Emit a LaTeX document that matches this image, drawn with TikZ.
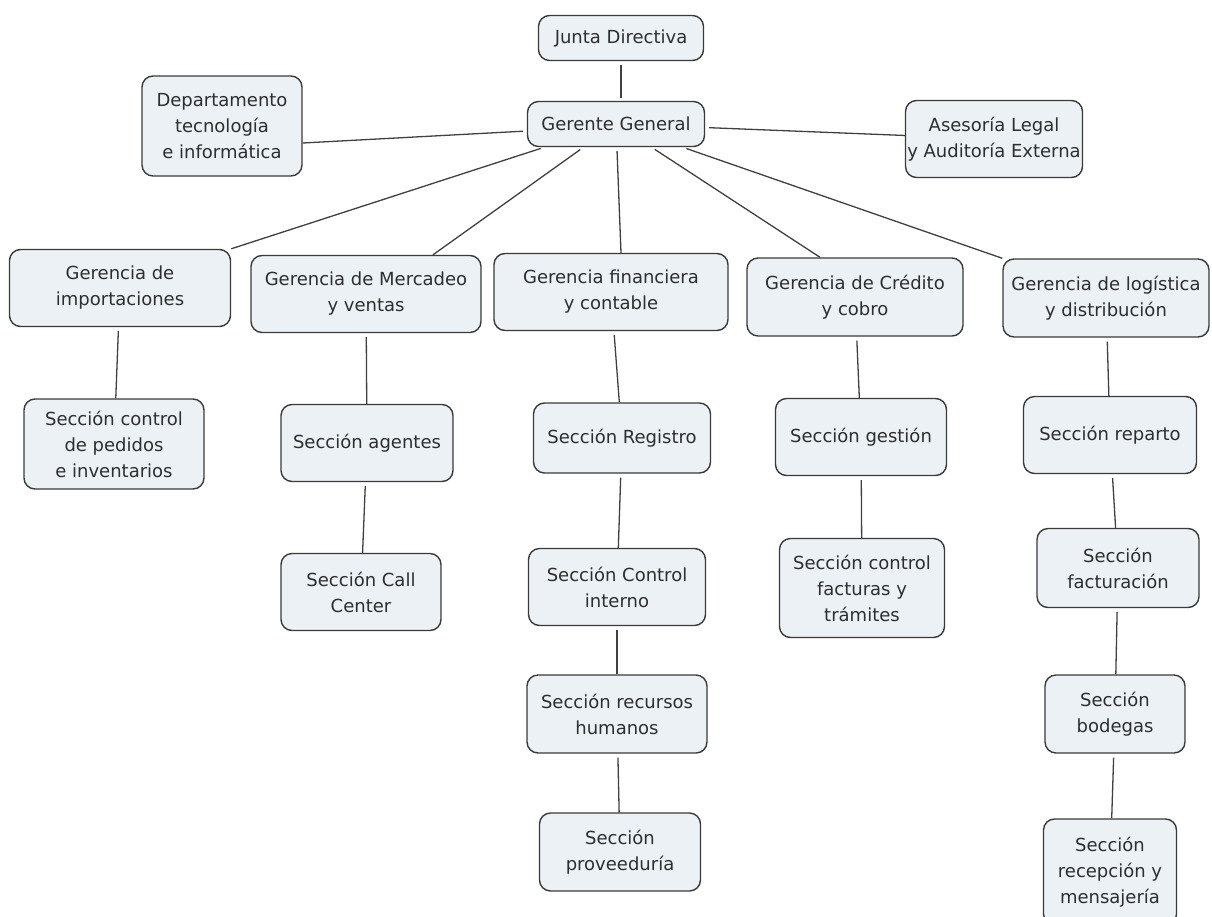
\documentclass[tikz,border=0pt]{standalone}
\usepackage{fontspec}
\setmainfont{DejaVu Sans}
\usepackage{xcolor}
\definecolor{orgFill}{HTML}{EBF1F4}
\definecolor{orgBorder}{HTML}{3A3A3A}
\definecolor{orgText}{HTML}{2E2E2E}
\definecolor{orgLine}{HTML}{404040}
\usepackage{tikz}
\usetikzlibrary{calc}
\tikzset{
    unit/.style={
        draw=orgBorder,
        fill=orgFill,
        rectangle,
        rounded corners=11pt,
        line width=1.4pt,
        align=center,
        inner sep=0pt,
        text=orgText,
        font=\fontsize{18}{26}\selectfont
    },
    link/.style={
        draw=orgLine,
        line width=1.3pt,
        shorten <=4pt
    }
}

\begin{document}
\begin{tikzpicture}[x=1pt, y=-1pt]
    \useasboundingbox (0,0) rectangle (1212,916);
    \clip (0,0) rectangle (1212,916);

    % Direction
    \node[unit, minimum width=165pt, minimum height=45pt] (junta) at (621,38) {Junta Directiva};
    \node[unit, minimum width=177pt, minimum height=45pt] (gg) at (616,124) {Gerente General};
    \node[unit, minimum width=160pt, minimum height=100pt] (dep) at (222,126) {Departamento\\tecnología\\e informática};
    \node[unit, minimum width=177pt, minimum height=77pt] (ases) at (994,139) {Asesoría Legal\\y Auditoría Externa};

    % Gerencias
    \node[unit, minimum width=221pt, minimum height=77pt] (imp) at (120,288) {Gerencia de\\importaciones};
    \node[unit, minimum width=230pt, minimum height=77pt] (merc) at (366,294) {Gerencia de Mercadeo\\y ventas};
    \node[unit, minimum width=234pt, minimum height=77pt] (fin) at (611,292) {Gerencia financiera\\y contable};
    \node[unit, minimum width=216pt, minimum height=78pt] (cred) at (855,297) {Gerencia de Crédito\\y cobro};
    \node[unit, minimum width=206pt, minimum height=78pt] (log) at (1106,298) {Gerencia de logística\\y distribución};

    % Secciones
    \node[unit, minimum width=180pt, minimum height=90pt] (ped) at (114,444) {Sección control\\de pedidos\\e inventarios};
    \node[unit, minimum width=172pt, minimum height=77pt] (age) at (367,443) {Sección agentes};
    \node[unit, minimum width=160pt, minimum height=77pt] (call) at (361,592) {Sección Call\\Center};
    \node[unit, minimum width=177pt, minimum height=70pt] (reg) at (622,438) {Sección Registro};
    \node[unit, minimum width=177pt, minimum height=77pt] (ctrl) at (617,587) {Sección Control\\interno};
    \node[unit, minimum width=180pt, minimum height=78pt] (rrhh) at (617,714) {Sección recursos\\humanos};
    \node[unit, minimum width=161pt, minimum height=78pt] (prov) at (620,852) {Sección\\proveeduría};
    \node[unit, minimum width=171pt, minimum height=77pt] (gest) at (861,437) {Sección gestión};
    \node[unit, minimum width=165pt, minimum height=99pt] (fact) at (862,588) {Sección control\\facturas y\\trámites};
    \node[unit, minimum width=173pt, minimum height=77pt] (rep) at (1110,435) {Sección reparto};
    \node[unit, minimum width=162pt, minimum height=79pt] (factu) at (1118,568) {Sección\\facturación};
    \node[unit, minimum width=140pt, minimum height=78pt] (bod) at (1115,714) {Sección\\bodegas};
    \node[unit, minimum width=133pt, minimum height=106pt] (recep) at (1110,872) {Sección\\recepción y\\mensajería};

    % Connectors from the top
    \draw[link, shorten >=3pt] (junta.south) -- (junta.south |- gg.north);
    \draw[link] ([yshift=-7pt]gg.west) -- ([yshift=-17pt]dep.east);
    \draw[link] (gg) -- (ases);
    \draw[link] (gg) -- (imp.north east);
    \draw[link] (gg) -- ([xshift=67pt]merc.north);
    \draw[link] (gg) -- ([xshift=10pt]fin.north);
    \draw[link] (gg) -- ([xshift=-35pt]cred.north);
    \draw[link] (gg) -- (log.north west);

    % Connectors in each column
    \draw[link] (imp) -- (ped);
    \draw[link] (merc) -- (age);
    \draw[link] (age) -- (call);
    \draw[link] (fin) -- (reg);
    \draw[link] (reg) -- (ctrl);
    \draw[link] (ctrl) -- (rrhh);
    \draw[link] (rrhh) -- (prov);
    \draw[link] (cred) -- (gest);
    \draw[link] (gest) -- (fact);
    \draw[link] (log) -- (rep);
    \draw[link] (rep) -- (factu);
    \draw[link] (factu) -- (bod);
    \draw[link] (bod) -- (recep);
\end{tikzpicture}
\end{document}
